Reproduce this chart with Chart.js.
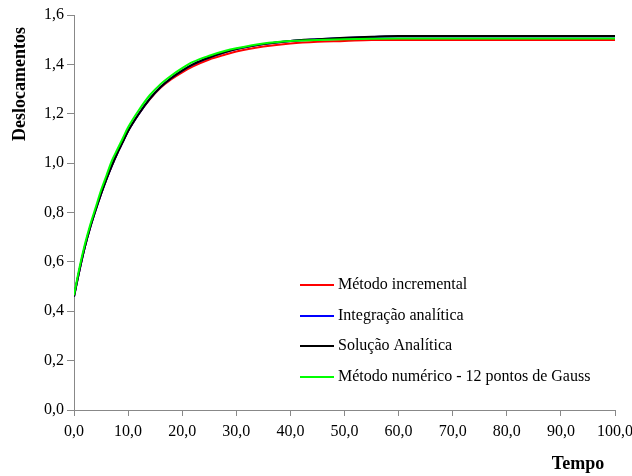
<!DOCTYPE html>
<html>
<head>
<meta charset="utf-8">
<script src="https://cdn.jsdelivr.net/npm/chart.js@4/dist/chart.umd.min.js"></script>
<style>
  html, body { margin: 0; padding: 0; background: #fff; }
  #wrap { width: 632px; height: 476px; position: relative; }
</style>
</head>
<body>
<div id="wrap"><canvas id="grafico"></canvas></div>
<script>
// tempo e deslocamentos
const tempo = [0, 1, 2, 3, 4, 5, 6, 7, 8, 9, 10, 12, 14, 16, 18, 20, 22, 25, 28, 30, 35, 40, 45, 50, 55, 60, 70, 80, 90, 100];
const incremental = [0.46, 0.565, 0.66, 0.74, 0.81, 0.875, 0.935, 0.99, 1.04, 1.085, 1.13, 1.20, 1.258, 1.305, 1.34, 1.368, 1.392, 1.42, 1.44, 1.452, 1.472, 1.485, 1.492, 1.495, 1.499, 1.499, 1.499, 1.499, 1.499, 1.499];
const integracao = [0.46, 0.565, 0.66, 0.74, 0.81, 0.875, 0.935, 0.99, 1.04, 1.085, 1.13, 1.20, 1.26, 1.308, 1.345, 1.375, 1.40, 1.428, 1.45, 1.462, 1.482, 1.495, 1.502, 1.507, 1.511, 1.513, 1.513, 1.513, 1.513, 1.513];
const analitica = [0.46, 0.565, 0.66, 0.74, 0.81, 0.875, 0.935, 0.99, 1.04, 1.085, 1.13, 1.20, 1.26, 1.308, 1.345, 1.375, 1.40, 1.428, 1.45, 1.462, 1.482, 1.495, 1.502, 1.508, 1.512, 1.515, 1.515, 1.515, 1.515, 1.515];
const gauss = [0.465, 0.575, 0.67, 0.75, 0.82, 0.89, 0.95, 1.01, 1.055, 1.10, 1.145, 1.215, 1.275, 1.32, 1.355, 1.385, 1.41, 1.435, 1.455, 1.465, 1.485, 1.495, 1.499, 1.502, 1.504, 1.505, 1.505, 1.505, 1.505, 1.505];

const nomes = ['Método incremental', 'Integração analítica', 'Solução Analítica', 'Método numérico - 12 pontos de Gauss'];
const cores = ['#ff0000', '#0000ff', '#000000', '#00ff00'];
const ordem = [3, 2, 1, 0]; // verde por cima

const fonte = 'Liberation Serif';
const virgula = v => Number(v).toFixed(1).replace('.', ',');

const series = [incremental, integracao, analitica, gauss];
const datasets = series.map((s, k) => ({
  label: nomes[k],
  data: tempo.map((t, i) => ({ x: t, y: s[i] })),
  borderColor: cores[k],
  borderWidth: 2,
  pointRadius: 0,
  cubicInterpolationMode: 'monotone',
  fill: false,
  order: ordem[k]
}));

// legenda dentro da área do gráfico e títulos dos eixos
const extras = {
  id: 'extras',
  afterDraw(chart) {
    const ctx = chart.ctx;
    ctx.save();
    ctx.font = '16px "' + fonte + '"';
    ctx.textBaseline = 'middle';
    ctx.textAlign = 'left';
    const y0 = 285, passo = 30.7;
    chart.data.datasets.forEach((ds, k) => {
      const y = Math.round(y0 + k * passo);
      ctx.strokeStyle = ds.borderColor;
      ctx.lineWidth = 2;
      ctx.beginPath();
      ctx.moveTo(300, y);
      ctx.lineTo(334, y);
      ctx.stroke();
      ctx.fillStyle = '#000';
      ctx.fillText(ds.label, 338, y);
    });

    ctx.font = 'bold 18px "' + fonte + '"';
    ctx.fillStyle = '#000';
    ctx.textAlign = 'center';
    ctx.fillText('Tempo', 578, 464);
    ctx.translate(20, 84);
    ctx.rotate(-Math.PI / 2);
    ctx.fillText('Deslocamentos', 0, 0);
    ctx.restore();
  }
};

new Chart(document.getElementById('grafico'), {
  type: 'line',
  data: { datasets },
  plugins: [extras],
  options: {
    responsive: true,
    maintainAspectRatio: false,
    animation: false,
    layout: { padding: { left: 0, right: 17, top: 15, bottom: 0 } },
    plugins: { legend: { display: false }, tooltip: { enabled: false } },
    scales: {
      x: {
        type: 'linear',
        min: 0,
        max: 100,
        // o rótulo "100,0" pode ultrapassar a borda direita
        afterFit: s => { s.height = 66; s.paddingRight = 0; },
        border: { display: true, color: '#888888', width: 1 },
        grid: { drawOnChartArea: false, drawTicks: true, tickLength: 6, color: '#888888' },
        ticks: {
          stepSize: 10,
          padding: 6,
          maxRotation: 0,
          color: '#000',
          font: { family: fonte, size: 16 },
          callback: virgula
        }
      },
      y: {
        min: 0,
        max: 1.6,
        afterFit: s => { s.width = 74; },
        border: { display: true, color: '#888888', width: 1 },
        grid: { drawOnChartArea: false, drawTicks: true, tickLength: 7, color: '#888888' },
        ticks: {
          stepSize: 0.2,
          padding: 3,
          color: '#000',
          font: { family: fonte, size: 16 },
          callback: virgula
        }
      }
    }
  }
});
</script>
</body>
</html>
